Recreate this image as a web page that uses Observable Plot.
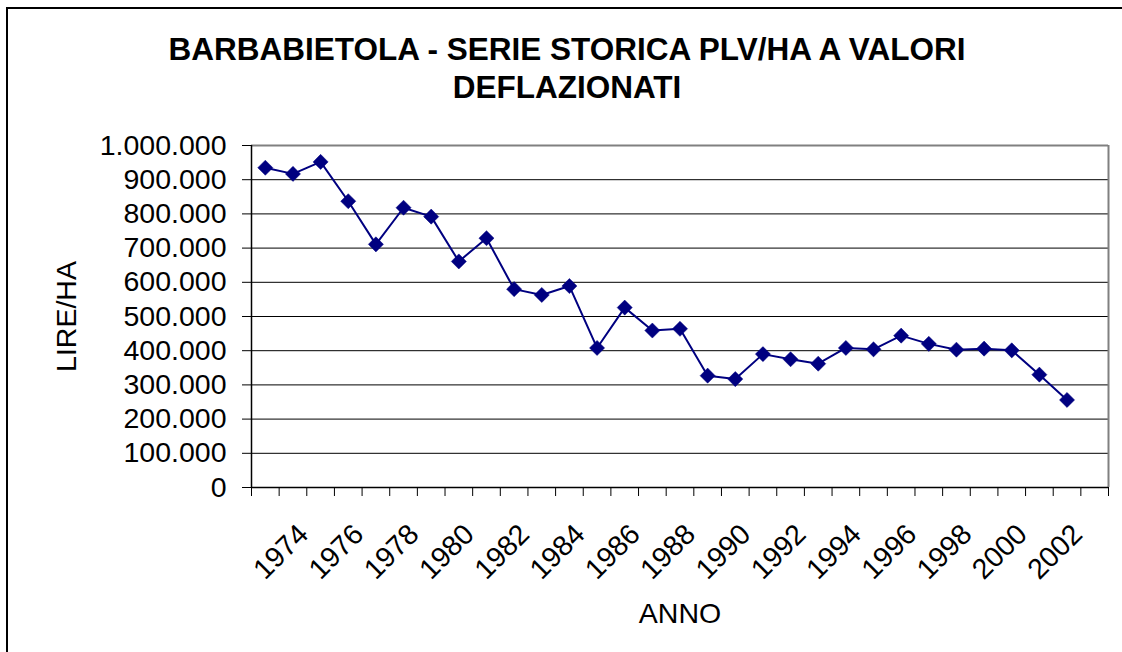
<!DOCTYPE html>
<html>
<head>
<meta charset="utf-8">
<script src="https://cdn.jsdelivr.net/npm/d3@7"></script>
<script src="https://cdn.jsdelivr.net/npm/@observablehq/plot@0.6"></script>
<style>
  html, body { margin: 0; padding: 0; background: #fff; overflow: hidden; width: 1122px; height: 652px; }
  #frame { position: absolute; left: 6px; top: 7px; width: 2000px; height: 2000px; border-left: 2px solid #000; border-top: 2px solid #000; box-sizing: border-box; pointer-events: none; }
  #title { position: absolute; left: 0; top: 0; width: 1134px; height: 110px; box-sizing: border-box; padding-top: 30px;
           text-align: center; font-family: "Liberation Sans", Arial, sans-serif; font-weight: bold; font-size: 31.5px; line-height: 38px; color: #000; }
  #chart { position: absolute; left: 0; top: 110px; }
</style>
</head>
<body>
<div id="title">BARBABIETOLA - SERIE STORICA PLV/HA A VALORI<br>DEFLAZIONATI</div>
<div id="chart"></div>
<div id="frame"></div>
<script>
// Data
const years = [1973, 1974, 1975, 1976, 1977, 1978, 1979, 1980, 1981, 1982,
               1983, 1984, 1985, 1986, 1987, 1988, 1989, 1990, 1991, 1992,
               1993, 1994, 1995, 1996, 1997, 1998, 1999, 2000, 2001, 2002];
const values = [935000, 917000, 952000, 837000, 711000, 818000, 792000, 661000, 729000, 580000,
                563000, 589000, 408000, 526000, 459000, 464000, 327000, 317000, 390000, 375000,
                362000, 408000, 404000, 444000, 420000, 403000, 406000, 401000, 330000, 256000];
const xLabelYears = [1974, 1976, 1978, 1980, 1982, 1984, 1986, 1988, 1990, 1992, 1994, 1996, 1998, 2000, 2002];
const yTicks = [0, 100000, 200000, 300000, 400000, 500000, 600000, 700000, 800000, 900000, 1000000];
const firstCategory = 1973, lastCategory = 2003; // last category slot is empty
const yTitle = "LIRE/HA";
const xTitle = "ANNO";

const data = years.map((y, i) => ({year: y, value: values[i]}));
const boundaries = d3.range(firstCategory - 0.5, lastCategory + 1, 1);
const gridTicks = yTicks.filter(v => v > 0 && v < 1000000);
const itFormat = d3.formatLocale({decimal: ",", thousands: ".", grouping: [3], currency: ["", ""]}).format(",d");
const font = "'Liberation Sans', Arial, sans-serif";

const chart = Plot.plot({
  width: 1122,
  height: 542,
  marginTop: 35,
  marginBottom: 165,
  marginLeft: 251,
  marginRight: 14,
  style: {fontFamily: font, fontSize: "28px", color: "#000", background: "transparent", overflow: "visible"},
  x: {type: "linear", domain: [firstCategory - 0.5, lastCategory + 0.5], axis: null},
  y: {type: "linear", domain: [0, 1000000], axis: null},
  marks: [
    Plot.ruleY(gridTicks, {stroke: "#000", strokeWidth: 1}),
    Plot.ruleY([1000000], {stroke: "#808080", strokeWidth: 2}),
    Plot.ruleX([lastCategory + 0.5], {stroke: "#808080", strokeWidth: 2}),
    Plot.axisY({ticks: yTicks, tickSize: 9, tickPadding: 16, tickFormat: itFormat, label: null, fontSize: 28.5, stroke: "#000"}),
    Plot.axisX({ticks: boundaries, tickSize: 9, tickFormat: () => "", label: null, stroke: "#000"}),
    Plot.ruleX([firstCategory - 0.5], {stroke: "#000", strokeWidth: 1.5}),
    Plot.ruleY([0], {stroke: "#000", strokeWidth: 1.5}),
    Plot.text(xLabelYears, {x: d => d, frameAnchor: "bottom", text: d => String(d), rotate: -45,
      textAnchor: "end", lineAnchor: "middle", dx: 10.5, dy: 42, fontSize: 28.5, fill: "#000"}),
    Plot.line(data, {x: "year", y: "value", stroke: "#000080", strokeWidth: 2}),
    Plot.dot(data, {x: "year", y: "value", symbol: "diamond2", r: 6.8, fill: "#000080", stroke: "#000080", strokeWidth: 0.5}),
    Plot.text([yTitle], {frameAnchor: "left", text: d => d, rotate: -90, textAnchor: "middle", lineAnchor: "middle",
      dx: -185, fontSize: 28.5, fill: "#000"}),
    Plot.text([xTitle], {frameAnchor: "bottom", text: d => d, textAnchor: "middle", lineAnchor: "middle",
      dy: 126, fontSize: 28.5, fill: "#000"})
  ]
});
document.getElementById("chart").appendChild(chart);
</script>
</body>
</html>
